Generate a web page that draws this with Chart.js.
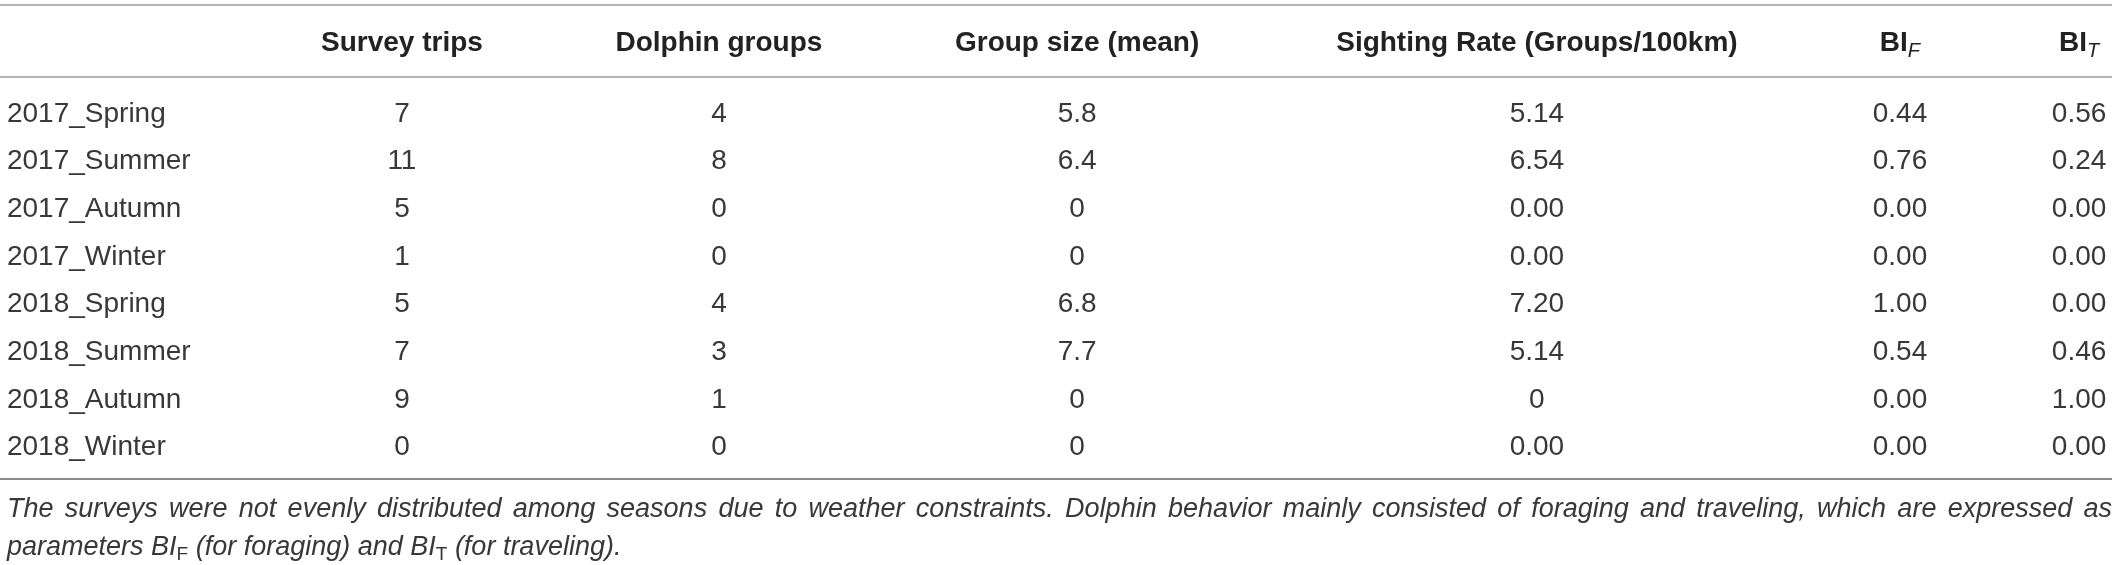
<!DOCTYPE html>
<html>
<head>
    <title>Survey summary</title>
    <script src="https://cdn.jsdelivr.net/npm/chart.js@4.4.1/dist/chart.umd.min.js"></script>
    <style>
        body {
            margin: 0;
            background-color: #fff;
        }
        #wrap {
            width: 2119px;
            height: 565px;
        }
    </style>
</head>
<body>
<div id="wrap">
    <canvas id="tableChart" width="2119" height="565"></canvas>
</div>
<script>
    // table data
    const seasons = ['2017_Spring', '2017_Summer', '2017_Autumn', '2017_Winter',
        '2018_Spring', '2018_Summer', '2018_Autumn', '2018_Winter'];
    const surveyTrips = ['7', '11', '5', '1', '5', '7', '9', '0'];
    const dolphinGroups = ['4', '8', '0', '0', '4', '3', '1', '0'];
    const groupSize = ['5.8', '6.4', '0', '0', '6.8', '7.7', '0', '0'];
    const sightingRate = ['5.14', '6.54', '0.00', '0.00', '7.20', '5.14', '0', '0.00'];
    const biForaging = ['0.44', '0.76', '0.00', '0.00', '1.00', '0.54', '0.00', '0.00'];
    const biTraveling = ['0.56', '0.24', '0.00', '0.00', '0.00', '0.46', '1.00', '0.00'];

    // header texts: [main, subscript]
    const headers = [
        ['Survey trips', ''],
        ['Dolphin groups', ''],
        ['Group size (mean)', ''],
        ['Sighting Rate (Groups/100km)', ''],
        ['BI', 'F'],
        ['BI', 'T']
    ];
    const footLine1 = 'The surveys were not evenly distributed among seasons due to weather constraints. Dolphin behavior mainly consisted of foraging and traveling, which are expressed as';
    const footLine2 = [['parameters BI', 0], ['F', 1], [' (for foraging) and BI', 0], ['T', 1], [' (for traveling).', 0]];

    // layout: column centre on the x scale (percent of table width)
    const COL_X = [19.03, 34.04, 51.0, 72.77, 89.96, 98.44];
    const LABEL_X = 0.33;

    const FONT = '"Liberation Sans", Arial, sans-serif';
    const TEXT = '#383838';

    const columns = [surveyTrips, dolphinGroups, groupSize, sightingRate, biForaging, biTraveling];

    const datasets = [{
        label: 'season',
        data: seasons.map(s => ({x: LABEL_X, y: s})),
        pointRadius: 0
    }];
    columns.forEach((col, j) => {
        datasets.push({
            label: headers[j][0] + headers[j][1],
            data: col.map((v, i) => ({x: COL_X[j], y: seasons[i]})),
            pointRadius: 0
        });
    });
    const cellTexts = [seasons].concat(columns);

    function drawRuns(ctx, runs, x, y) {
        // runs: [text, font, dy]
        runs.forEach(r => {
            ctx.font = r[1];
            ctx.fillText(r[0], x, y + r[2]);
            x += ctx.measureText(r[0]).width;
        });
    }
    function runsWidth(ctx, runs) {
        let w = 0;
        runs.forEach(r => { ctx.font = r[1]; w += ctx.measureText(r[0]).width; });
        return w;
    }

    const tablePlugin = {
        id: 'tableText',
        afterDatasetsDraw(chart) {
            const ctx = chart.ctx;
            const area = chart.chartArea;
            ctx.save();
            ctx.textBaseline = 'alphabetic';
            ctx.fillStyle = TEXT;

            // cells, placed at the points the scales computed
            chart.data.datasets.forEach((ds, di) => {
                const meta = chart.getDatasetMeta(di);
                ctx.font = '28px ' + FONT;
                ctx.textAlign = di === 0 ? 'left' : 'center';
                meta.data.forEach((pt, i) => {
                    ctx.fillText(cellTexts[di][i], pt.x, pt.y + 10);
                });
            });

            // header row
            const xs = chart.scales.x;
            ctx.textAlign = 'left';
            ctx.fillStyle = '#222';
            headers.forEach((h, j) => {
                const runs = [[h[0], 'bold 28px ' + FONT, 0]];
                if (h[1]) runs.push([h[1], 'italic 20px ' + FONT, 6]);
                const cx = xs.getPixelForValue(COL_X[j]);
                const w = runsWidth(ctx, runs);
                drawRuns(ctx, runs, cx - w / 2, area.top - 37);
            });

            // rules
            ctx.lineWidth = 2;
            ctx.strokeStyle = '#b4b4b4';
            [area.top - 83, area.top - 11].forEach(y => {
                ctx.beginPath();
                ctx.moveTo(0, y);
                ctx.lineTo(area.right, y);
                ctx.stroke();
            });
            ctx.strokeStyle = '#8c8c8c';
            ctx.beginPath();
            ctx.moveTo(0, area.bottom + 10);
            ctx.lineTo(area.right, area.bottom + 10);
            ctx.stroke();

            // footnote, first line justified
            ctx.fillStyle = '#383838';
            let size = 27;
            const words = footLine1.split(' ');
            const left = xs.getPixelForValue(LABEL_X);
            const avail = area.right - left;
            let wordsW, spaceW;
            for (; size > 18; size -= 0.5) {
                ctx.font = 'italic ' + size + 'px ' + FONT;
                wordsW = words.reduce((a, w) => a + ctx.measureText(w).width, 0);
                spaceW = ctx.measureText(' ').width;
                if (wordsW + spaceW * 0.8 * (words.length - 1) <= avail) break;
            }
            const gap = (avail - wordsW) / (words.length - 1);
            let x = left;
            words.forEach(w => {
                ctx.fillText(w, x, area.bottom + 48);
                x += ctx.measureText(w).width + gap;
            });

            const runs2 = footLine2.map(r => r[1]
                ? [r[0], Math.round(size * 0.72) + 'px ' + FONT, 5]
                : [r[0], 'italic ' + size + 'px ' + FONT, 0]);
            drawRuns(ctx, runs2, left, area.bottom + 86);
            ctx.restore();
        }
    };

    new Chart('tableChart', {
        type: 'scatter',
        data: {datasets: datasets},
        options: {
            responsive: false,
            animation: false,
            events: [],
            layout: {padding: {top: 88, bottom: 96, left: 0, right: 7}},
            plugins: {legend: {display: false}, tooltip: {enabled: false}},
            scales: {
                x: {type: 'linear', min: 0, max: 100, display: false},
                y: {type: 'category', labels: seasons, offset: true, display: false}
            }
        },
        plugins: [tablePlugin]
    });
</script>
</body>
</html>
